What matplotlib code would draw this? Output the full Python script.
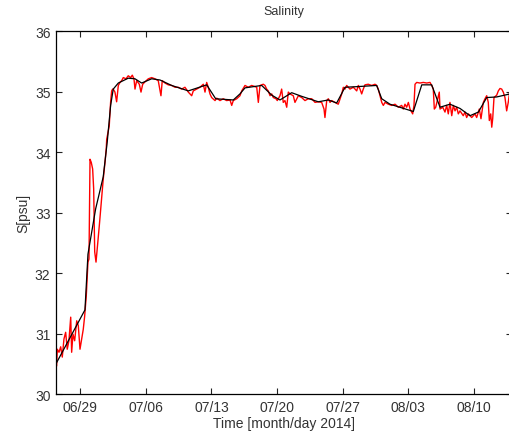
import matplotlib
matplotlib.use("Agg")
import matplotlib.pyplot as plt

# time in days since 06/29 2014 00:00, salinity in psu
# raw record (red)
t_raw = [-2.52, -2.45, -2.27, -2.09, -1.92, -1.74, -1.56, -1.39, -1.21, -1.02,
         -0.92, -0.78, -0.60, -0.38, -0.21, -0.03, 0.15, 0.32, 0.47, 0.64,
         0.82, 0.93, 1.04, 1.17, 1.32, 1.43, 1.54, 1.68, 1.81, 2.03,
         2.24, 2.45, 2.64, 2.77, 2.82, 3.09, 3.24, 3.35, 3.46, 3.52,
         3.70, 3.88, 4.06, 4.24, 4.42, 4.59, 4.88, 5.12, 5.38, 5.55,
         5.73, 5.84, 6.02, 6.30, 6.48, 6.66, 6.91, 7.26, 7.62, 7.97,
         8.32, 8.61, 8.75, 9.04, 9.39, 9.75, 10.11, 10.46, 10.82, 11.17,
         11.53, 11.89, 12.06, 12.42, 12.77, 13.13, 13.31, 13.49, 13.66, 13.84,
         14.02, 14.38, 14.56, 14.91, 15.26, 15.62, 15.98, 16.16, 16.33, 16.69,
         17.04, 17.23, 17.58, 17.93, 18.29, 18.46, 18.83, 19.00, 19.18, 19.53,
         19.71, 19.89, 20.06, 20.25, 20.43, 20.60, 20.89, 21.02, 21.31, 21.49,
         21.66, 21.84, 22.03, 22.20, 22.38, 22.73, 22.91, 23.27, 23.63, 23.98,
         24.33, 24.70, 25.05, 25.40, 25.76, 26.01, 26.11, 26.30, 26.47, 26.65,
         26.83, 27.18, 27.53, 27.72, 27.90, 28.07, 28.25, 28.43, 28.78, 29.14,
         29.50, 29.67, 29.85, 30.03, 30.20, 30.38, 30.73, 31.10, 31.45, 31.63,
         31.80, 31.98, 32.17, 32.34, 32.52, 32.87, 33.23, 33.59, 33.94, 34.30,
         34.47, 34.65, 34.83, 35.01, 35.19, 35.47, 35.61, 35.72, 35.90, 36.25,
         36.60, 36.97, 37.32, 37.50, 37.67, 37.78, 37.93, 38.10, 38.31, 38.39,
         38.68, 38.92, 39.10, 39.27, 39.45, 39.64, 39.81, 39.99, 40.17, 40.34,
         40.52, 40.87, 41.05, 41.23, 41.41, 41.77, 41.94, 42.12, 42.30, 42.58,
         42.76, 43.01, 43.19, 43.37, 43.54, 43.65, 43.80, 43.91, 44.01, 44.15,
         44.44, 44.61, 44.79, 44.97, 45.14, 45.32, 45.50, 45.67, 45.82]
s_raw = [30.47, 30.74, 30.69, 30.78, 30.61, 30.91, 31.02, 30.74, 30.88, 31.27,
         30.69, 30.99, 30.88, 31.21, 31.13, 30.74, 30.91, 31.07, 31.29, 31.62,
         32.18, 32.23, 33.88, 33.83, 33.72, 33.39, 32.35, 32.18, 32.40, 32.78,
         33.17, 33.55, 33.83, 34.05, 34.21, 34.43, 34.83, 35.01, 35.04, 35.04,
         34.99, 34.83, 35.10, 35.15, 35.18, 35.23, 35.21, 35.26, 35.23, 35.27,
         35.21, 35.04, 35.18, 35.12, 34.99, 35.12, 35.16, 35.21, 35.23, 35.21,
         35.18, 34.93, 35.18, 35.14, 35.11, 35.10, 35.07, 35.07, 35.04, 35.07,
         34.99, 34.93, 35.01, 35.04, 35.07, 35.12, 34.99, 35.15, 35.07, 34.96,
         34.90, 34.85, 34.89, 34.85, 34.88, 34.85, 34.86, 34.77, 34.85, 34.88,
         34.93, 35.01, 35.10, 35.07, 35.10, 35.09, 35.07, 34.82, 35.10, 35.12,
         35.10, 35.04, 35.01, 34.93, 34.96, 34.90, 34.88, 34.85, 34.93, 35.04,
         34.82, 34.85, 34.74, 34.99, 34.96, 34.93, 34.82, 34.93, 34.90, 34.85,
         34.88, 34.88, 34.82, 34.83, 34.82, 34.71, 34.57, 34.85, 34.88, 34.82,
         34.85, 34.82, 34.79, 34.88, 34.96, 35.07, 35.04, 35.10, 35.04, 35.07,
         35.01, 35.10, 35.04, 34.96, 35.04, 35.11, 35.12, 35.10, 35.12, 35.10,
         35.04, 34.93, 34.82, 34.77, 34.82, 34.79, 34.77, 34.79, 34.74, 34.77,
         34.71, 34.79, 34.74, 34.82, 34.71, 34.63, 34.77, 35.12, 35.15, 35.14,
         35.15, 35.14, 35.15, 35.10, 35.04, 34.71, 34.74, 34.85, 34.99, 34.71,
         34.74, 34.66, 34.77, 34.63, 34.82, 34.60, 34.77, 34.68, 34.74, 34.63,
         34.68, 34.60, 34.66, 34.57, 34.63, 34.57, 34.60, 34.63, 34.57, 34.71,
         34.55, 34.82, 34.88, 34.93, 34.82, 34.52, 34.63, 34.41, 34.55, 34.90,
         34.94, 35.01, 35.05, 35.04, 34.99, 34.90, 34.68, 34.82, 34.99]

# smoothed record (black)
t_smooth = [-2.59, 0.50, 0.82, 1.64, 2.45, 2.88, 3.24, 3.52, 4.06, 5.12,
            5.84, 6.55, 7.62, 8.51, 9.75, 11.53, 13.49, 14.45, 16.33, 17.04,
            17.58, 19.36, 20.43, 21.31, 22.56, 23.63, 25.40, 26.47, 27.36, 28.25,
            29.50, 31.63, 32.17, 33.05, 35.54, 36.44, 37.50, 38.39, 39.45, 40.52,
            41.59, 42.48, 43.37, 44.44, 45.86]
s_smooth = [30.50, 31.39, 32.31, 33.06, 33.59, 34.17, 34.77, 35.04, 35.14, 35.22,
            35.21, 35.14, 35.21, 35.19, 35.10, 35.01, 35.11, 34.88, 34.86, 34.96,
            35.06, 35.10, 34.94, 34.86, 34.98, 34.92, 34.83, 34.86, 34.81, 35.07,
            35.08, 35.10, 34.88, 34.79, 34.67, 35.11, 35.11, 34.74, 34.79, 34.72,
            34.60, 34.66, 34.90, 34.91, 34.96]

tick_days = [0, 7, 14, 21, 28, 35, 42]
tick_labels = ['06/29', '07/06', '07/13', '07/20', '07/27', '08/03', '08/10']

plt.rcParams['font.family'] = ['Liberation Sans', 'DejaVu Sans']
plt.rcParams['font.size'] = 10
txt = '#333333'

fig = plt.figure(figsize=(5.10, 4.39), dpi=100)
ax = fig.add_axes([56/510, 44/439, 456/510, 363/439])

ax.plot(t_raw, s_raw, color='#ff0000', lw=1.0)
ax.plot(t_smooth, s_smooth, color='black', lw=0.9)

ax.set_xlim(-2.59, 46.07)
ax.set_ylim(30, 36)
ax.set_xticks(tick_days)
ax.set_xticklabels(tick_labels)
ax.set_yticks(range(30, 37))
ax.tick_params(direction='in', top=True, right=True, length=4, width=0.8,
               colors='#222222', labelcolor=txt, pad=4)
for sp in ax.spines.values():
    sp.set_linewidth(0.9)

ax.set_title('Salinity', fontsize=9, pad=12, color=txt)
ax.set_xlabel('Time [month/day 2014]', labelpad=2, color=txt)
ax.set_ylabel('S[psu]', color=txt)
ax.yaxis.set_label_coords(-0.057, 0.5)

fig.savefig('out.png', dpi=100)
